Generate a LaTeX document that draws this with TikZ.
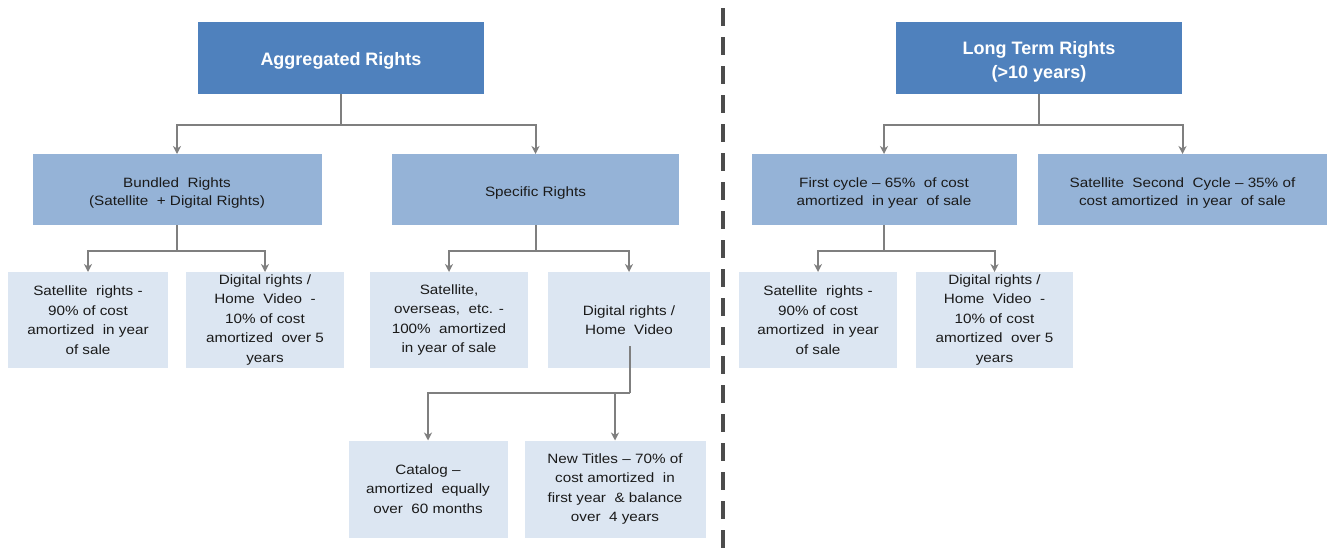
\documentclass[tikz,border=0pt]{standalone}
\usepackage{fontspec}
\setmainfont[FakeStretch=1.13]{Liberation Sans}
\newfontfamily\titlefont{Liberation Sans}
\usetikzlibrary{arrows.meta}
\definecolor{dkblue}{HTML}{4F81BD}
\definecolor{mdblue}{HTML}{95B3D7}
\definecolor{ltblue}{HTML}{DCE6F2}
\definecolor{conncol}{HTML}{7F7F7F}
\definecolor{txtcol}{HTML}{1A1A1A}
\tikzset{
  topbox/.style={fill=dkblue, draw=none, inner sep=0pt, outer sep=0pt, minimum height=72pt},
  toptext/.style={inner sep=0pt, text=white, align=center,
    font=\titlefont\bfseries\fontsize{18}{24}\selectfont},
  midbox/.style={fill=mdblue, draw=none, inner sep=0pt, outer sep=0pt, minimum height=71pt},
  midtext/.style={inner sep=0pt, text=txtcol, align=center,
    font=\fontsize{13.5}{18}\selectfont},
  lowbox/.style={fill=ltblue, draw=none, inner sep=0pt, outer sep=0pt, text=txtcol, align=center,
    font=\fontsize{13.5}{19.5}\selectfont, minimum height=96pt},
  conn/.style={draw=conncol, line width=2pt, -{Stealth[length=8pt,width=8pt,inset=2.5pt]}},
  plain/.style={draw=conncol, line width=2pt},
  divider/.style={draw=black!70, line width=4pt, dash pattern=on 18pt off 11pt, dash phase=21pt}
}
\begin{document}
\begin{tikzpicture}[x=1pt,y=-1pt]
\useasboundingbox (0,0) rectangle (1327,549);
% left tree
\node[topbox, minimum width=286pt] (agg) at (341,58) {};
\node[toptext] (aggt) at ([yshift=-3pt]agg.center) {Aggregated Rights};
\node[midbox, minimum width=289pt] (bund) at (177,189.5) {};
\node[midtext] (bundt) at ([yshift=-3.5pt]bund.center) {Bundled~~Rights\\(Satellite~~+ Digital Rights)};
\node[midbox, minimum width=287pt] (spec) at (535.5,189.5) {};
\node[midtext] (spect) at ([yshift=-3.5pt]spec.center) {Specific Rights};
\node[lowbox, minimum width=160pt] (sat1) at (88,320) {Satellite~~rights -\\90\% of cost\\amortized~~in year\\of sale};
\node[lowbox, minimum width=158pt] (dig1) at (265,320) {Digital rights /\\Home~~Video~~-\\10\% of cost\\amortized~~over 5\\years};
\node[lowbox, minimum width=158pt] (sato) at (449,320) {Satellite,\\overseas,~~etc. -\\100\%~~amortized\\in year of sale};
\node[lowbox, minimum width=162pt] (dhv) at (629,320) {Digital rights /\\Home~~Video};
\node[lowbox, minimum width=159pt, minimum height=97pt] (cat) at (428,489) {Catalog --\\amortized~~equally\\over~~60 months};
\node[lowbox, minimum width=181pt, minimum height=97pt] (newt) at (615,489) {New Titles -- 70\% of\\cost amortized~~in\\first year~~\& balance\\over~~4 years};
% right tree
\node[topbox, minimum width=286pt] (ltr) at (1039,58) {};
\node[toptext] (ltrt) at ([yshift=-3.5pt]ltr.center) {Long Term Rights\\(>10 years)};
\node[midbox, minimum width=265pt] (fc) at (884,189.5) {};
\node[midtext] (fct) at ([yshift=-3.5pt]fc.center) {First cycle -- 65\%~~of cost\\amortized~~in year~~of sale};
\node[midbox, minimum width=289pt] (sc) at (1182.5,189.5) {};
\node[midtext] (sct) at ([yshift=-3.5pt]sc.center) {Satellite~~Second~~Cycle -- 35\% of\\cost amortized~~in year~~of sale};
\node[lowbox, minimum width=158pt] (sat2) at (818,320) {Satellite~~rights -\\90\% of cost\\amortized~~in year\\of sale};
\node[lowbox, minimum width=157pt] (dig2) at (994.5,320) {Digital rights /\\Home~~Video~~-\\10\% of cost\\amortized~~over 5\\years};
% divider
\coordinate (dtop) at (722.5,0);
\coordinate (dbot) at (722.5,549);
\draw[divider] (dtop) -- (dbot);
% connectors left
\draw[plain] (agg.south) -- ++(0,31) coordinate (aggj);
\draw[conn] (aggj) -| (bund.north);
\draw[conn] (aggj) -| (spec.north);
\draw[plain] (bund.south) -- ++(0,26) coordinate (bundj);
\draw[conn] (bundj) -| (sat1.north);
\draw[conn] (bundj) -| (dig1.north);
\draw[plain] (spec.south) -- ++(0,26) coordinate (specj);
\draw[conn] (specj) -| (sato.north);
\draw[conn] (specj) -| (dhv.north);
\coordinate (dhvs) at (630,346);
\draw[plain] (dhvs) -- (630,393) coordinate (dhvj);
\draw[conn] (dhvj) -| (cat.north);
\draw[conn] (newt.north |- dhvj) -- (newt.north);
% connectors right
\draw[plain] (ltr.south) -- ++(0,31) coordinate (ltrj);
\draw[conn] (ltrj) -| (fc.north);
\draw[conn] (ltrj) -| (sc.north);
\draw[plain] (fc.south) -- ++(0,26) coordinate (fcj);
\draw[conn] (fcj) -| (sat2.north);
\draw[conn] (fcj) -| (dig2.north);
\end{tikzpicture}
\end{document}
